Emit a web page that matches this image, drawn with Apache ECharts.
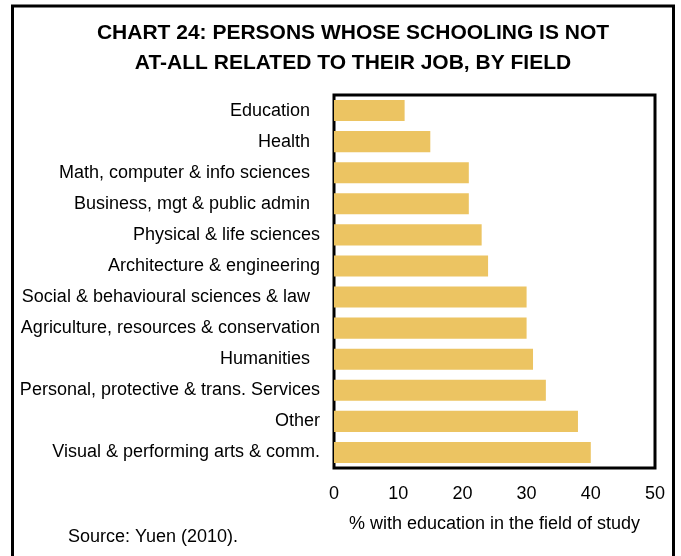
<!DOCTYPE html>
<html><head><meta charset="utf-8">
<script src="https://cdn.jsdelivr.net/npm/echarts@6/dist/echarts.min.js"></script>
<style>html,body{margin:0;padding:0;background:#fff}#c{width:681px;height:556px}</style>
</head><body><div id="c"></div>
<script>
const categories = [
  "Education  ", "Health  ", "Math, computer & info sciences  ", "Business, mgt & public admin  ",
  "Physical & life sciences", "Architecture & engineering", "Social & behavioural sciences & law  ",
  "Agriculture, resources & conservation", "Humanities  ", "Personal, protective & trans. Services",
  "Other", "Visual & performing arts & comm."
];
const values = [11, 15, 21, 21, 23, 24, 30, 30, 31, 33, 38, 40];
const xTicks = [0, 10, 20, 30, 40, 50];
const titleText = "CHART 24: PERSONS WHOSE SCHOOLING IS NOT\nAT-ALL RELATED TO THEIR JOB, BY FIELD";
const axisName = "% with education in the field of study";
const sourceText = "Source: Yuen (2010).";

const chart = echarts.init(document.getElementById('c'), null, {renderer: 'canvas'});
const font = "'Liberation Sans', Arial, sans-serif";
chart.setOption({
  animation: false,
  backgroundColor: '#fff',
  title: {
    text: titleText, left: 348, top: 13, textAlign: 'center',
    textStyle: {fontFamily: font, fontWeight: 'bold', fontSize: 21, lineHeight: 30, color: '#000'}
  },
  graphic: [
    {type: 'rect', shape: {x: 12.5, y: 6, width: 661, height: 620},
     style: {fill: null, stroke: '#000', lineWidth: 3}, silent: true},
    {type: 'text', left: 68, top: 528,
     style: {text: sourceText, font: "18px 'Liberation Sans', Arial, sans-serif", fill: '#000'}}
  ],
  grid: {left: 334, right: 26, top: 95, bottom: 88, show: true, borderColor: '#000', borderWidth: 3, backgroundColor: 'transparent'},
  xAxis: {
    type: 'value', min: xTicks[0], max: xTicks[xTicks.length - 1], interval: 10,
    axisLine: {show: false}, axisTick: {show: false}, splitLine: {show: false},
    axisLabel: {margin: 17, fontFamily: font, fontSize: 18, color: '#000'},
    name: axisName, nameLocation: 'middle', nameGap: 47,
    nameTextStyle: {fontFamily: font, fontSize: 18, color: '#000'}
  },
  yAxis: {
    type: 'category', data: categories, inverse: true,
    axisLine: {show: false}, axisTick: {show: false},
    axisLabel: {margin: 14, fontFamily: font, fontSize: 18, color: '#000'}
  },
  series: [{
    type: 'bar', data: values, barCategoryGap: '32%',
    itemStyle: {color: '#ECC462'}
  }]
});
</script></body></html>
